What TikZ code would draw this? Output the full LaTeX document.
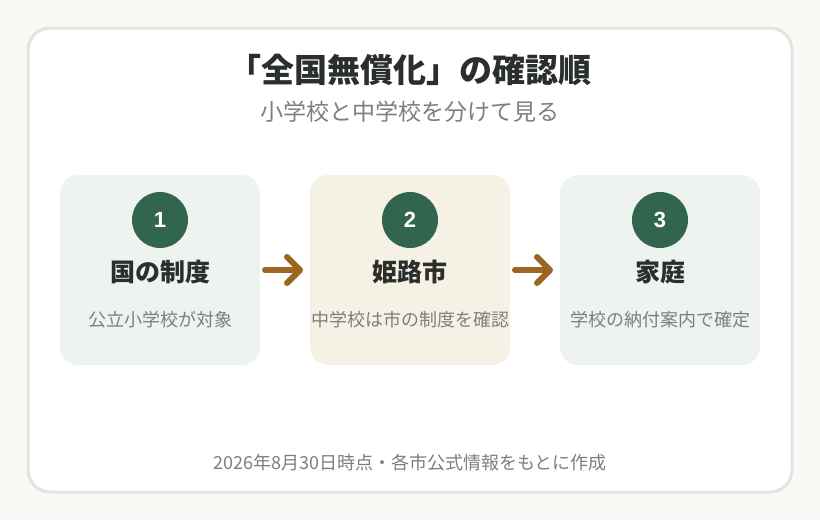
\documentclass[tikz,border=0pt]{standalone}
\usepackage{fontspec}
\setmainfont{Noto Sans CJK JP}
\newfontfamily\digitfont{Liberation Sans}
\usetikzlibrary{positioning}
\definecolor{pagebg}{HTML}{FAF9F5}
\definecolor{frameline}{HTML}{DDE6DF}
\definecolor{stepgreen}{HTML}{EFF3F0}
\definecolor{stepcream}{HTML}{F6F1E5}
\definecolor{badge}{HTML}{32654F}
\definecolor{headtext}{HTML}{2A2F2C}
\definecolor{subtext}{HTML}{7C807D}
\definecolor{arrowbrown}{HTML}{9B6720}
\tikzset{
	stepbox/.style={rounded corners=18pt, minimum width=200pt, minimum height=190pt, inner sep=0pt},
	num/.style={circle, fill=badge, minimum size=56pt, inner sep=0pt, text=white, font=\digitfont\fontsize{22}{22}\selectfont\bfseries},
	head/.style={text=headtext, font=\fontsize{25}{28}\selectfont\bfseries},
	desc/.style={text=subtext, font=\fontsize{18}{20}\selectfont},
	go/.style={draw=arrowbrown, line width=6pt, line cap=round, line join=round}
}
\begin{document}
\begin{tikzpicture}[x=1pt,y=-1pt]
	\fill[pagebg] (0,0) rectangle (820,520);
	\useasboundingbox (0,0) rectangle (820,520);
	\draw[frameline, line width=3pt, fill=white, rounded corners=22pt] (28,28) rectangle (792,492);

	\node[text=headtext, font=\fontsize{33}{36}\selectfont\bfseries] (title) at (410,70) {「全国無償化」の確認順};
	\node[text=subtext, font=\fontsize{23}{26}\selectfont] (subtitle) at (410,112) {小学校と中学校を分けて見る};

	\node[stepbox, fill=stepgreen] (s1) at (160,270) {};
	\node[stepbox, fill=stepcream] (s2) at (410,270) {};
	\node[stepbox, fill=stepgreen] (s3) at (660,270) {};

	\node[num] (n1) at (160,220) {1};
	\node[num] (n2) at (410,220) {2};
	\node[num] (n3) at (660,220) {3};

	\node[head] (h1) at (160,272) {国の制度};
	\node[head] (h2) at (410,272) {姫路市};
	\node[head] (h3) at (660,272) {家庭};

	\node[desc] (d1) at (160,320) {公立小学校が対象};
	\node[desc] (d2) at (410,320) {中学校は市の制度を確認};
	\node[desc] (d3) at (660,320) {学校の納付案内で確定};

	% arrows between the steps
	\foreach \a in {265,515}{
		\draw[go] (\a,270) -- (\a+34,270);
		\draw[go] (\a+22,257) -- (\a+35,270) -- (\a+22,283);
	}

	\node[desc] (foot) at (410,463) {2026年8月30日時点・各市公式情報をもとに作成};
\end{tikzpicture}
\end{document}
